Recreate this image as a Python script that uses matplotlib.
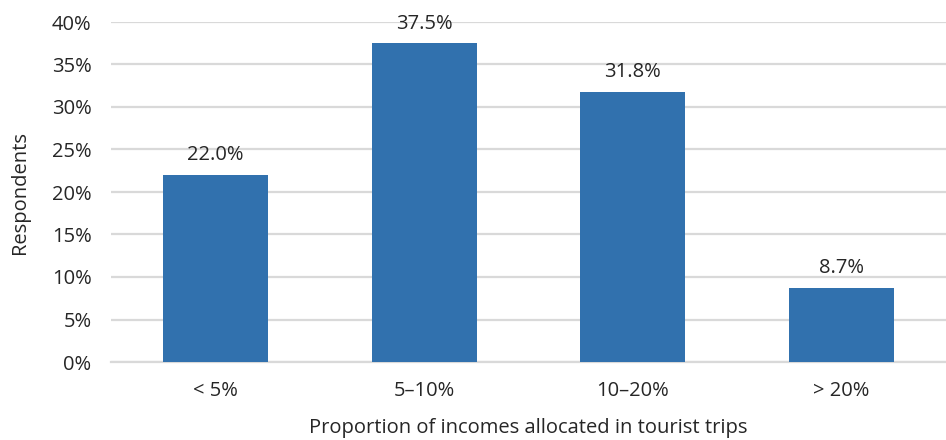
import matplotlib

matplotlib.use("Agg")
import matplotlib.pyplot as plt
from matplotlib.ticker import FuncFormatter

categories = ["< 5%", "5\u201310%", "10\u201320%", "> 20%"]
values = [22.0, 37.5, 31.8, 8.7]
yticks = [0, 5, 10, 15, 20, 25, 30, 35, 40]

BAR = "#3171AE"
GRID = "#D9D9D9"
TEXT = "#262626"
FS = 14.5

plt.rcParams["font.family"] = ["Open Sans", "DejaVu Sans"]
plt.rcParams["font.size"] = FS

fig = plt.figure(figsize=(9.46, 4.40), dpi=100)
ax = fig.add_axes([111 / 946, 78 / 440, 835 / 946, 340 / 440])

x = range(len(categories))
ax.bar(x, values, width=0.503, color=BAR, zorder=3)
for xi, v in zip(x, values):
    ax.annotate(f"{v:.1f}%", (xi, v), xytext=(0, 7), textcoords="offset points",
                ha="center", va="bottom", color=TEXT, fontsize=FS)

ax.set_xlim(-0.5, len(categories) - 0.5)
ax.set_ylim(0, 40)
ax.set_yticks(yticks)
ax.yaxis.set_major_formatter(FuncFormatter(lambda v, _: f"{v:.0f}%"))
ax.set_xticks(list(x), categories)
ax.grid(axis="y", color=GRID, lw=1.6, zorder=0)
ax.set_axisbelow(True)
for s in ("top", "right", "left"):
    ax.spines[s].set_visible(False)
ax.spines["bottom"].set_color(GRID)
ax.spines["bottom"].set_linewidth(1.6)
ax.tick_params(length=0, colors=TEXT, labelsize=FS)
ax.tick_params(axis="x", pad=14)
ax.tick_params(axis="y", pad=14)
ax.set_xlabel("Proportion of incomes allocated in tourist trips", color=TEXT,
              fontsize=FS, labelpad=12)
ax.set_ylabel("Respondents", color=TEXT, fontsize=FS, labelpad=16)

fig.savefig("out.png", dpi=100)
